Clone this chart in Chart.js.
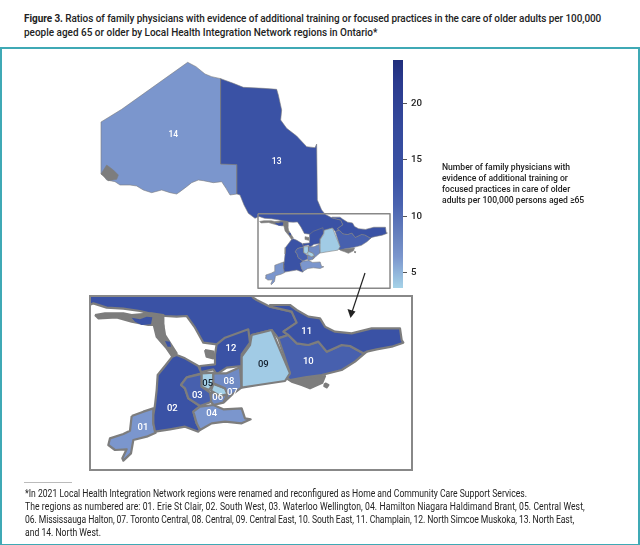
<!DOCTYPE html>
<html>
<head>
<meta charset="utf-8">
<script src="https://cdn.jsdelivr.net/npm/chart.js@4/dist/chart.umd.min.js"></script>
<style>
  html, body { margin: 0; padding: 0; background: #fff; }
  body { width: 640px; height: 545px; position: relative; overflow: hidden; font-family: Roboto, sans-serif; color: #222; }
  canvas { position: absolute; }
  #title { position: absolute; left: 24px; top: 11px; font-size: 11.8px; line-height: 14px; white-space: nowrap; font-weight: 500; transform: scaleX(0.845); transform-origin: left top; }
  #title .tight { letter-spacing: -0.07px; }
  #frame { position: absolute; left: 0; top: 47px; width: 636px; height: 495px; border: 2px solid #3fa9b5; }
  #legendText { position: absolute; left: 442px; top: 161px; font-size: 9.9px; line-height: 11px; white-space: nowrap; font-weight: 500; transform: scaleX(0.87); transform-origin: left top; }
  #rule { position: absolute; left: 24px; top: 482px; width: 48px; height: 1px; background: #bbb; }
  #notes { position: absolute; left: 25px; top: 487px; font-size: 10px; line-height: 13px; white-space: nowrap; transform: scaleX(0.86); transform-origin: left top; }
  #notes .wide { letter-spacing: 0.09px; }
  #notes .tight { letter-spacing: -0.1px; }
  #insetMap { outline: 2px solid #888; }
  #arrow { position: absolute; left: 0; top: 0; }
</style>
</head>
<body>
<div id="title"><span class="tight"><b>Figure 3.</b> Ratios of family physicians with evidence of additional training or focused practices in the care of older adults per 100,000</span><br>people aged 65 or older by Local Health Integration Network regions in Ontario*</div>
<div id="frame"></div>
<canvas id="overviewMap" width="310" height="245" style="left:90px;top:50px"></canvas>
<canvas id="insetMap" width="320" height="172" style="left:91px;top:297px"></canvas>
<canvas id="colorbar" width="50" height="248" style="left:393px;top:50px"></canvas>
<svg id="arrow" width="640" height="545">
  <line x1="365" y1="273" x2="352" y2="312" stroke="#222" stroke-width="1.2"/>
  <polygon points="350.5,318 347.5,309 355.5,311.5" fill="#222"/>
</svg>
<div id="legendText">Number of family physicians with<br>evidence of additional training or<br>focused practices in care of older<br>adults per 100,000 persons aged ≥65</div>
<div id="rule"></div>
<div id="notes">*In 2021 Local Health Integration Network regions were renamed and reconfigured as Home and Community Care Support Services.<br><span class="wide">The regions as numbered are: 01. Erie St Clair, 02. South West, 03. Waterloo Wellington, 04. Hamilton Niagara Haldimand Brant, 05. Central West,</span><br><span class="tight">06. Mississauga Halton, 07. Toronto Central, 08. Central, 09. Central East, 10. South East, 11. Champlain, 12. North Simcoe Muskoka, 13. North East,</span><br>and 14. North West.</div>

<script>
// ratio per region
const regionCodes = ["01", "02", "03", "04", "05", "06", "07", "08", "09", "10", "11", "12", "13", "14"];
const regionRatios = [6.4, 13.5, 11.5, 6.4, 3.8, 7.5, 3.8, 7.5, 4, 11.5, 13.5, 13.5, 13.5, 6.4];

const colorbarTicks = [5, 10, 15, 20];
const colorbarRange = [3.65, 23.85];
const colorStopValues = [3.65, 6.4, 8, 11, 13.5, 18, 22, 23.85];
const colorStopHex = ["#a6d3e8", "#7b96cd", "#6a85c0", "#4a63b0", "#3a52a5", "#34499c", "#2a3a8e", "#202e7c"];

// northern outlines, traced on the province view
const north14 = [[33,216],[95,178],[293,37],[318,50],[345,72],[365,80],[392,86],[392,342],[441,344],[441,432],[420,435],[408,415],[395,395],[370,398],[340,392],[325,390],[305,398],[290,410],[270,425],[260,432],[240,428],[215,420],[185,428],[160,420],[140,408],[120,405],[90,405],[75,395],[50,390],[40,375],[33,372]];
const north13Top = [[392,86],[430,100],[460,112],[520,115],[560,118],[565,135],[575,180],[572,210],[590,235],[620,258],[650,290],[675,293],[680,282],[682,450],[695,480],[705,492]];
const north13Coast = [[495,505],[475,490],[462,465],[450,435],[441,432],[441,344],[392,342]];
const woodsLake = [[33,372],[50,345],[70,360],[85,375],[80,388],[55,392]];

// southern outlines, traced on the enlarged view
const south01 = [[140,378],[175,365],[205,355],[205,400],[212,428],[185,440],[145,450],[138,490],[115,512],[112,505],[125,478],[90,480],[70,465],[75,445],[115,432],[135,422]];
const south02 = [[262,200],[240,228],[218,255],[215,300],[210,345],[205,375],[205,400],[210,425],[255,418],[300,410],[340,425],[345,418],[335,400],[325,365],[345,348],[310,325],[300,295],[288,285],[305,262],[350,250],[340,228],[300,205],[275,195]];
const south03 = [[305,262],[350,252],[350,290],[375,308],[380,335],[345,348],[310,325],[300,295],[288,285]];
const south04 = [[345,350],[385,345],[415,358],[470,355],[480,385],[497,388],[470,400],[420,395],[380,400],[345,420],[335,400],[325,365]];
const south05 = [[350,250],[385,248],[385,280],[372,300],[350,290]];
const south06 = [[378,305],[405,320],[428,312],[415,338],[385,345],[378,335]];
const south07 = [[385,282],[420,295],[428,312],[405,318],[378,302]];
const south08 = [[385,250],[425,250],[465,232],[470,292],[440,315],[418,336],[428,312],[420,295],[385,280]];
const south09 = [[500,135],[560,120],[615,250],[600,273],[520,285],[470,293],[470,200],[495,165]];
const south10 = [[580,145],[610,135],[635,160],[670,165],[700,155],[725,185],[770,165],[795,168],[835,190],[845,185],[810,215],[770,240],[710,255],[660,262],[615,270],[600,258],[615,250]];
const south11 = [[595,125],[635,98],[620,65],[555,50],[555,45],[615,45],[635,60],[670,80],[705,85],[720,110],[750,125],[800,130],[860,115],[945,115],[950,150],[955,158],[920,170],[875,178],[845,185],[835,190],[795,168],[770,165],[725,185],[700,155],[670,165],[635,160],[610,135]];
const south12 = [[395,163],[420,143],[490,118],[495,158],[470,193],[470,228],[425,233],[395,253],[385,238],[345,247],[345,228],[390,223],[390,193]];
const south13Shore = [[515,30],[555,50],[620,65],[635,98],[595,125],[610,135],[580,145],[560,120],[500,135],[470,200],[395,163],[355,158],[330,113],[305,78],[275,80],[240,78],[205,73],[165,63],[115,56],[65,53],[25,40]];
const manitoulin = [[30,75],[60,70],[115,70],[140,75],[200,70],[235,75],[235,110],[205,105],[190,105],[140,95],[95,82],[40,85]];
const manitoulinMiddle = [[140,83],[165,88],[185,80],[202,82],[198,103],[170,105],[150,95]];
const brucePeninsula = [[205,100],[235,105],[240,135],[275,190],[262,200],[245,175],[215,140]];
const peninsulaMiddle = [[240,153],[255,155],[258,170],[248,170]];
const simcoeBlob = [[360,180],[385,185],[385,205],[365,200]];
const quinteIslands = [[600,262],[620,262],[645,265],[680,262],[720,258],[712,278],[675,295],[650,285],[620,275]];
const wolfeIsland = [[720,280],[730,285],[725,292],[718,288]];

// where the numbers sit
const overviewLabelCodes = ["13", "14"];
const overviewLabelSpots = [[560,335],[250,255]];
const insetLabelCodes = ["01", "02", "03", "04", "05", "06", "07", "08", "09", "10", "11", "12"];
const insetLabelSpots = [[174,412],[262,357],[337,316],[380,372],[368,280],[398,322],[442,308],[432,275],[535,223],[670,214],[665,124],[438,176]];
const darkLabels = ["05", "09"];

const insetLimits = { xMin: 18, xMax: 978, yMin: 21, yMax: 537 };
const outlineGrey = "#7d7d7d";

// province view tracing -> enlarged view units
function fromOverview(p) {
  return [18 + (p[0] - 504) * 2.424, 21 + (p[1] - 491) * 2.304];
}

function hexToRgb(h) {
  return [1, 3, 5].map(i => parseInt(h.substr(i, 2), 16));
}

function colorFor(value) {
  let i = 0;
  while (i < colorStopValues.length - 2 && value > colorStopValues[i + 1]) i++;
  const t = (value - colorStopValues[i]) / (colorStopValues[i + 1] - colorStopValues[i]);
  const a = hexToRgb(colorStopHex[i]);
  const b = hexToRgb(colorStopHex[i + 1]);
  return "rgb(" + a.map((c, k) => Math.round(c + (b[k] - c) * t)).join(",") + ")";
}

function ratioColor(code) {
  return colorFor(regionRatios[regionCodes.indexOf(code)]);
}

function closedPoints(pts) {
  return pts.concat([pts[0]]).map(p => ({ x: p[0], y: p[1] }));
}

function shape(pts, fillColor, width) {
  return {
    data: closedPoints(pts),
    showLine: true,
    fill: "shape",
    tension: 0,
    pointRadius: 0,
    backgroundColor: fillColor,
    borderColor: outlineGrey,
    borderWidth: width,
    borderJoinStyle: "round"
  };
}

const region13 = north13Top.map(fromOverview).concat(south13Shore, north13Coast.map(fromOverview));

function mapDatasets(width) {
  const list = [
    shape(north14.map(fromOverview), ratioColor("14"), width),
    shape(woodsLake.map(fromOverview), outlineGrey, width),
    shape(region13, ratioColor("13"), width),
    shape(manitoulin, outlineGrey, width),
    shape(manitoulinMiddle, ratioColor("13"), 0),
    shape(brucePeninsula, outlineGrey, width),
    shape(peninsulaMiddle, ratioColor("02"), 0),
    shape(simcoeBlob, outlineGrey, width),
    shape(quinteIslands, outlineGrey, width),
    shape(wolfeIsland, outlineGrey, width)
  ];
  const south = { "01": south01, "02": south02, "03": south03, "04": south04, "05": south05, "06": south06, "07": south07, "08": south08, "09": south09, "10": south10, "11": south11, "12": south12 };
  Object.keys(south).forEach(code => list.push(shape(south[code], ratioColor(code), width)));
  return list;
}

const labelPlugin = {
  id: "regionLabels",
  afterDatasetsDraw(chart, args, opts) {
    const ctx = chart.ctx;
    ctx.save();
    ctx.font = "500 " + opts.size + "px Roboto, sans-serif";
    ctx.textAlign = "center";
    ctx.textBaseline = "middle";
    opts.codes.forEach((code, i) => {
      ctx.fillStyle = darkLabels.includes(code) ? "#14202e" : "#fff";
      ctx.fillText(code, chart.scales.x.getPixelForValue(opts.spots[i][0]), chart.scales.y.getPixelForValue(opts.spots[i][1]));
    });
    ctx.restore();
  }
};

function makeMap(id, datasets, lim, codes, spots, size) {
  new Chart(document.getElementById(id), {
    type: "scatter",
    data: { datasets: datasets },
    options: {
      responsive: false,
      animation: false,
      layout: { padding: 0 },
      scales: {
        x: { type: "linear", display: false, min: lim.xMin, max: lim.xMax },
        y: { type: "linear", display: false, min: lim.yMin, max: lim.yMax, reverse: true }
      },
      plugins: {
        legend: { display: false },
        tooltip: { enabled: false },
        regionLabels: { codes: codes, spots: spots, size: size }
      }
    },
    plugins: [labelPlugin]
  });
}

// Chart.js paints the first dataset last, so the lists go in back to front
const insetBox = shape([[18,21],[978,21],[978,537],[18,537]], "rgba(0,0,0,0)", 1.5);
insetBox.borderColor = "#888";
const overviewSets = mapDatasets(0.6);
overviewSets.push(insetBox);
makeMap("overviewMap", overviewSets.reverse(),
  { xMin: -1203.7, xMax: 1050.6, yMin: -1110.3, yMax: 583.2 },
  overviewLabelCodes, overviewLabelSpots.map(fromOverview), 8.5);
makeMap("insetMap", mapDatasets(2.2).reverse(), insetLimits, insetLabelCodes, insetLabelSpots, 9.5);

new Chart(document.getElementById("colorbar"), {
  type: "bar",
  data: {
    labels: [""],
    datasets: [{
      data: [colorbarRange],
      barPercentage: 1,
      categoryPercentage: 1,
      backgroundColor: function (c) {
        const a = c.chart.chartArea;
        if (!a) return colorStopHex[4];
        const g = c.chart.ctx.createLinearGradient(0, a.bottom, 0, a.top);
        colorStopValues.forEach((v, i) => {
          g.addColorStop((v - colorbarRange[0]) / (colorbarRange[1] - colorbarRange[0]), colorStopHex[i]);
        });
        return g;
      }
    }]
  },
  options: {
    responsive: false,
    animation: false,
    layout: { padding: { top: 10, bottom: 10, left: 0, right: 0 } },
    scales: {
      x: { display: false },
      y: {
        position: "right",
        min: colorbarRange[0],
        max: colorbarRange[1],
        afterBuildTicks: s => { s.ticks = colorbarTicks.map(v => ({ value: v })); },
        afterFit: s => { s.width = 40; },
        grid: { drawOnChartArea: false, drawTicks: true, tickLength: 4, color: "#555" },
        border: { display: false },
        ticks: { color: "#222", padding: 4, font: { family: "Roboto", size: 9.7, weight: "500" } }
      }
    },
    plugins: { legend: { display: false }, tooltip: { enabled: false } }
  }
});
</script>
</body>
</html>
